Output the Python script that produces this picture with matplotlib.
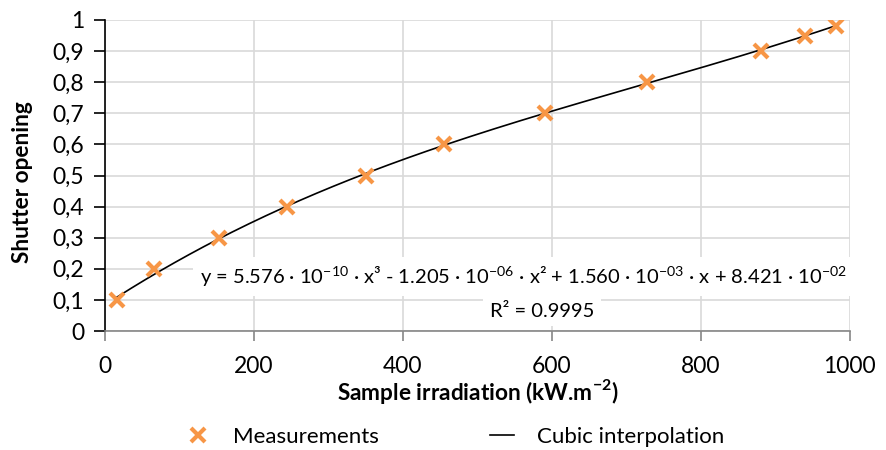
import numpy as np
import matplotlib
matplotlib.use("Agg")
import matplotlib.pyplot as plt

plt.rcParams["font.family"] = ["Lato", "DejaVu Sans"]
plt.rcParams["mathtext.fontset"] = "custom"
plt.rcParams["mathtext.rm"] = "Lato"
plt.rcParams["mathtext.bf"] = "Lato:bold"

irradiation = [16, 66, 153, 244, 350, 455, 591, 728, 881, 940, 981]
shutter = [0.10, 0.20, 0.30, 0.40, 0.50, 0.60, 0.70, 0.80, 0.90, 0.95, 0.98]

# cubic trendline coefficients as printed on the chart
coeffs = [5.576e-10, -1.205e-06, 1.560e-03, 8.421e-02]

x_ticks = [0, 200, 400, 600, 800, 1000]
y_ticks = [0, 0.1, 0.2, 0.3, 0.4, 0.5, 0.6, 0.7, 0.8, 0.9, 1]
y_labels = ["0", "0,1", "0,2", "0,3", "0,4", "0,5", "0,6", "0,7", "0,8", "0,9", "1"]

fig = plt.figure(figsize=(8.87, 4.5), dpi=100)
ax = fig.add_axes([0.1184, 0.2644, 0.8396, 0.6912])

xs = np.linspace(min(irradiation), max(irradiation), 300)
ax.plot(xs, np.polyval(coeffs, xs), color="black", lw=1.2, label="Cubic interpolation", zorder=3)
ax.plot(irradiation, shutter, ls="none", marker="x", ms=10, mew=3,
        color="#F79646", label="Measurements", zorder=4)

ax.set_xlim(0, 1000)
ax.set_ylim(0, 1)
ax.set_xticks(x_ticks)
ax.set_yticks(y_ticks)
ax.set_yticklabels(y_labels)
ax.tick_params(labelsize=16.5)
ax.tick_params(axis="y", length=8, width=1.2, color="black", pad=7)
ax.tick_params(axis="x", length=7, width=1.2, color="#868686", pad=11)
ax.grid(color="#d9d9d9", lw=1.2)
ax.set_axisbelow(True)
for s in ["top", "right"]:
    ax.spines[s].set_visible(False)
ax.spines["left"].set_linewidth(1.2)
ax.spines["left"].set_color("black")
ax.spines["bottom"].set_linewidth(1.2)
ax.spines["bottom"].set_color("#868686")

ax.set_xlabel(r"Sample irradiation (kW.m$^{\mathbf{-2}}$)", fontsize=16.3, fontweight="bold", va="center")
ax.xaxis.set_label_coords(0.5, -0.195)
ax.set_ylabel("Shutter opening", fontsize=16.3, fontweight="bold", va="center")
ax.yaxis.set_label_coords(-0.111, 0.48)

eq = (r"y = 5.576 · 10$^{-10}$ · x³ - 1.205 · 10$^{-06}$ · x² + 1.560 · 10$^{-03}$ · x"
      r" + 8.421 · 10$^{-02}$")
ax.text(562, 0.175, eq, ha="center", va="center", fontsize=14.5,
        bbox=dict(facecolor="white", edgecolor="none", pad=5), zorder=5)
ax.text(587, 0.064, "R² = 0.9995", ha="center", va="center", fontsize=14.5,
        bbox=dict(facecolor="white", edgecolor="none", pad=5), zorder=5)

handles, labels = ax.get_legend_handles_labels()
fig.legend(handles[::-1], labels[::-1], loc="center", bbox_to_anchor=(0.513, 0.029), ncol=2,
           frameon=False, fontsize=16, columnspacing=5, handlelength=1.1, handletextpad=1.0)

fig.savefig("out.png", dpi=100)
